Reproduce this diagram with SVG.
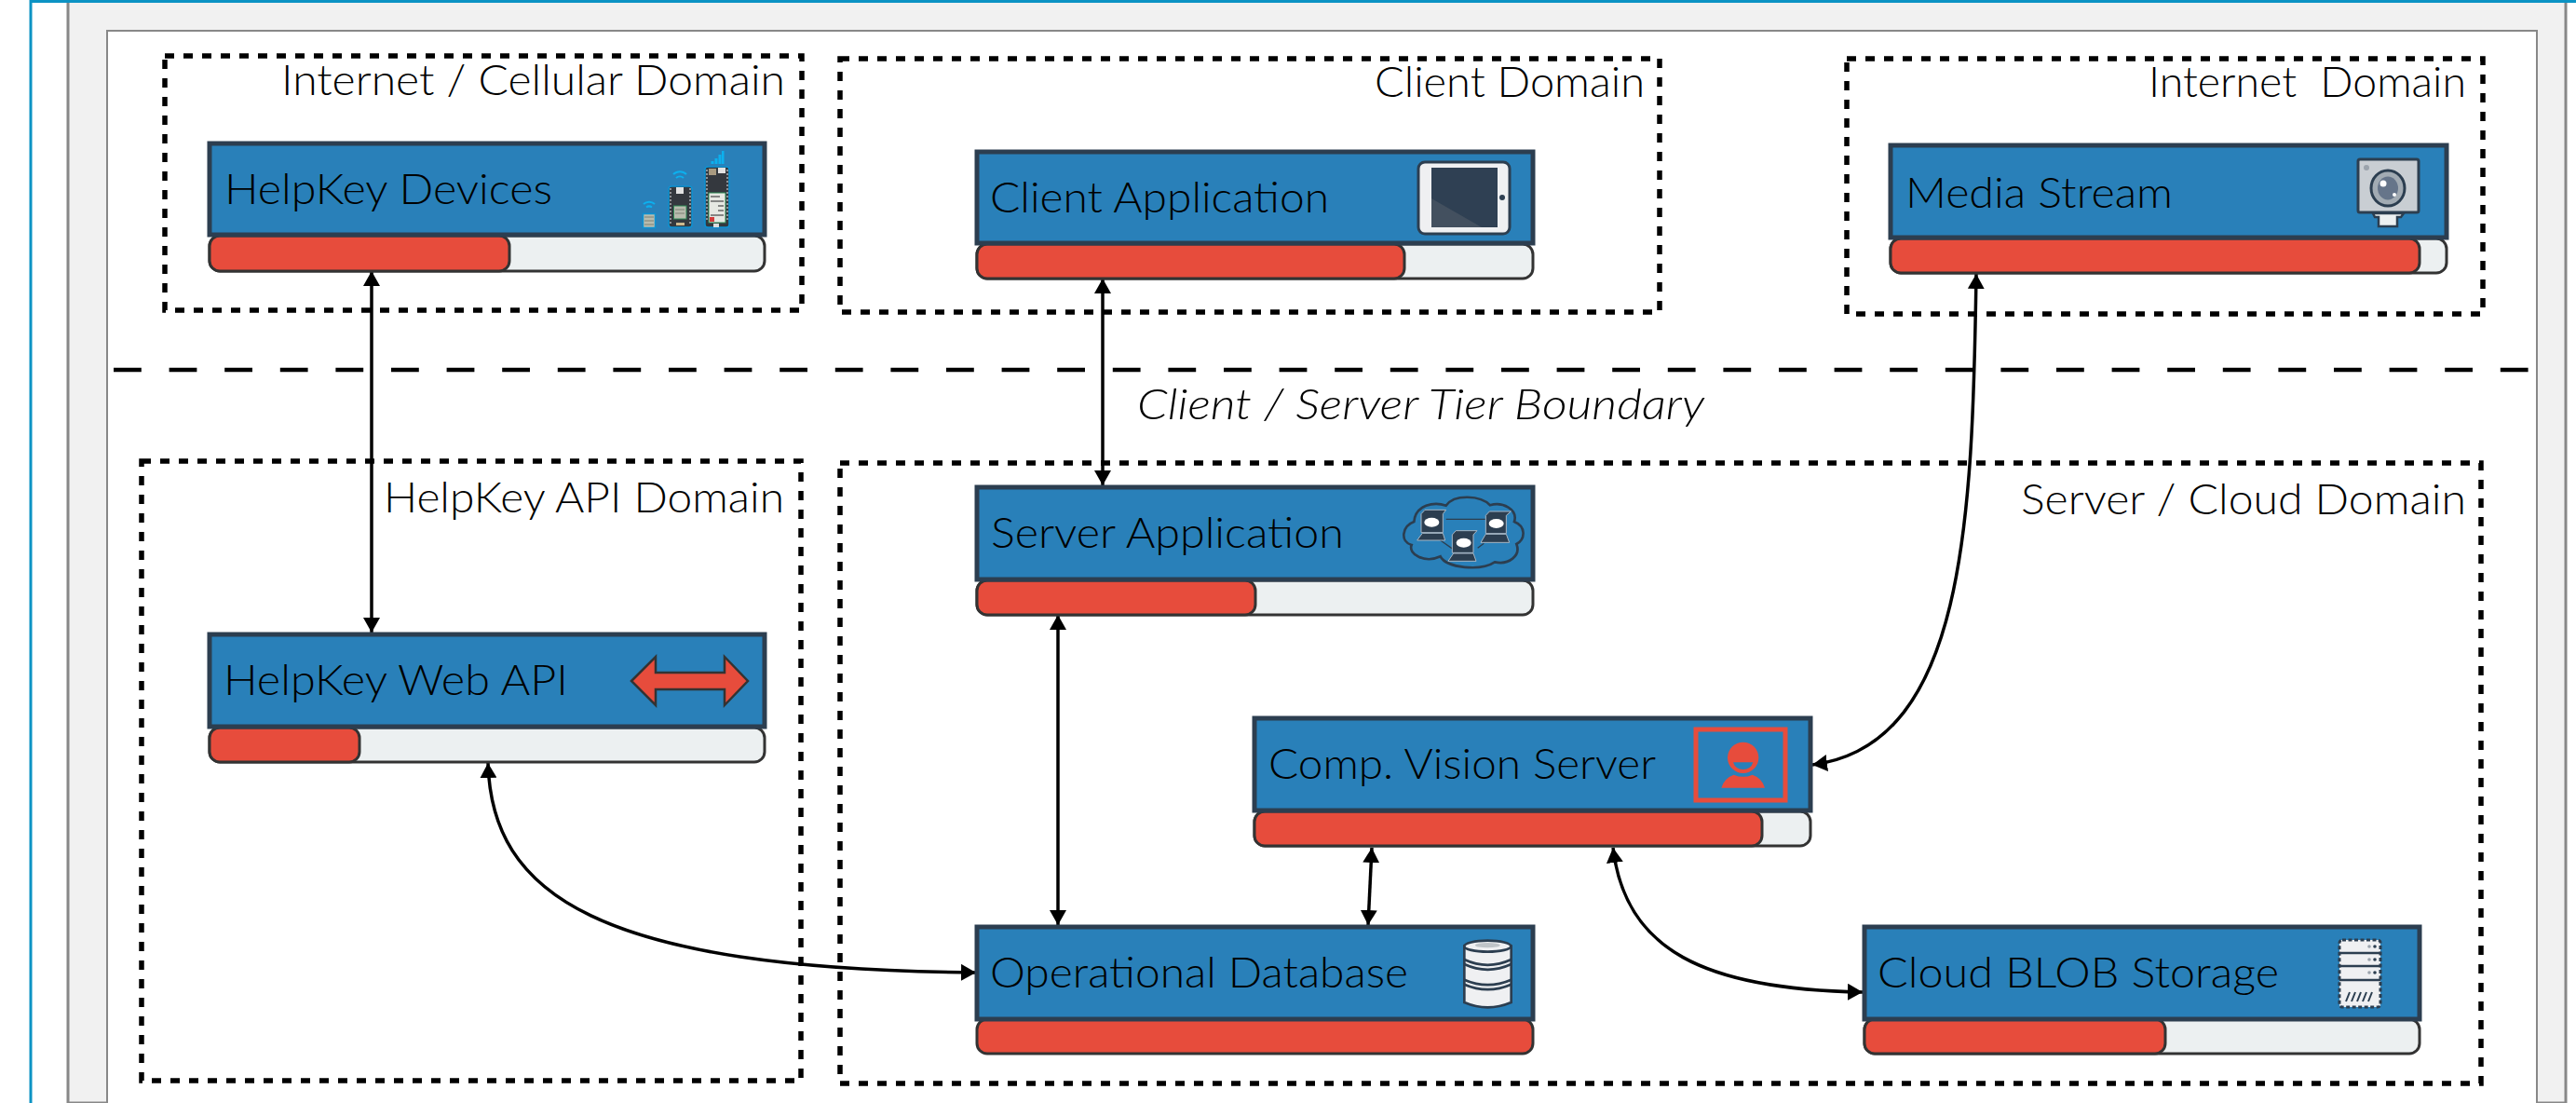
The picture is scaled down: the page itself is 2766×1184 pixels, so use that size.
<svg xmlns="http://www.w3.org/2000/svg" width="2766" height="1184" viewBox="0 0 2766 1184">
<style>
.zone{fill:none;stroke:#000;stroke-width:5.500;stroke-dasharray:10 10}
.hd{fill:#2980b9;stroke:#2c3e50;stroke-width:5}
.bar{fill:#ecf0f1;stroke:#333;stroke-width:3}
.red{fill:#e74c3c;stroke:#333;stroke-width:3}
text{font-family:"Lato","Liberation Sans",sans-serif;font-weight:300;font-size:46px;fill:#000}
.c{fill:none;stroke:#000;stroke-width:3.500;marker-start:url(#s);marker-end:url(#e)}
.pins{fill:none;stroke:#8d9298;stroke-width:2;stroke-dasharray:2 2}
.wifi{fill:none;stroke:#0cb0ee;stroke-width:2}
.mon{fill:#2c3e50;stroke:#a9b7c4;stroke-width:3}
</style>
<defs>
<marker id="e" viewBox="0 0 16 18" refX="16" refY="9" markerWidth="16" markerHeight="18" markerUnits="userSpaceOnUse" orient="auto"><path d="M0,0L16,9L0,18Z" fill="#000"/></marker>
<marker id="s" viewBox="0 0 16 18" refX="0" refY="9" markerWidth="16" markerHeight="18" markerUnits="userSpaceOnUse" orient="auto"><path d="M16,0L0,9L16,18Z" fill="#000"/></marker>
</defs>
<rect width="2766" height="1184" fill="#fff"/>
<g id="frame">
<rect x="73" y="0" width="2682" height="1184" fill="#f1f1f1" stroke="#888" stroke-width="3"/>
<rect x="115" y="33" width="2609" height="1153" fill="#fff" stroke="#888" stroke-width="2"/>
<path d="M33,1184V1.500H2766" fill="none" stroke="#0c93c4" stroke-width="3"/>
</g>
<g id="boundary">
<path d="M122,397H2716" stroke="#000" stroke-width="4.700" stroke-dasharray="29.800 29.800" fill="none"/>
<text x="1221" y="450" font-style="italic" textLength="609" lengthAdjust="spacingAndGlyphs">Client / Server Tier Boundary</text>
</g>
<g id="zone-internet-cellular"><rect class="zone" x="177" y="60" width="684" height="273"/><text x="302" y="102" textLength="541" lengthAdjust="spacingAndGlyphs">Internet / Cellular Domain</text></g>
<g id="zone-client"><rect class="zone" x="902" y="63" width="880" height="272"/><text x="1476" y="104" textLength="290" lengthAdjust="spacingAndGlyphs">Client Domain</text></g>
<g id="zone-internet"><rect class="zone" x="1983" y="63" width="683" height="274"/><text x="2307" y="104" textLength="341" lengthAdjust="spacingAndGlyphs" xml:space="preserve">Internet  Domain</text></g>
<g id="zone-api"><rect class="zone" x="152" y="495" width="708" height="665"/><text x="412" y="550" textLength="430" lengthAdjust="spacingAndGlyphs">HelpKey API Domain</text></g>
<g id="zone-server"><rect class="zone" x="902" y="497" width="1762" height="666"/><text x="2170" y="552" textLength="478" lengthAdjust="spacingAndGlyphs">Server / Cloud Domain</text></g>

<g id="connectors">
<path class="c" d="M399,291V679"/>
<path class="c" d="M1184,299V521"/>
<path class="c" d="M2122,294C2118,560 2110,800 1946,821"/>
<path class="c" d="M1136,660V993"/>
<path class="c" d="M1473,910L1469,993"/>
<path class="c" d="M524,819C528,960 640,1040 1048,1044"/>
<path class="c" d="M1732,910C1745,1020 1830,1062 2000,1065"/>
</g>

<g id="helpkey-devices">
<rect class="bar" x="225" y="253" width="596" height="38" rx="11"/><rect class="red" x="225" y="253" width="322" height="38" rx="11"/>
<rect class="hd" x="225" y="154" width="596" height="98"/>
<text x="241" y="219" textLength="352" lengthAdjust="spacingAndGlyphs">HelpKey Devices</text>
<path class="wifi" d="M691,219a9,9 0 0 1 12,0M694,222.500a5,5 0 0 1 6,0M723,187a10,10 0 0 1 14,0M726,191a6,6 0 0 1 8,0"/>
<rect x="690.500" y="229.500" width="13" height="15" fill="#b8bcae" stroke="#0c93d4" stroke-width="1.500"/>
<path d="M692,233h10M692,237h10M692,241h10" stroke="#7d8175" stroke-width="1"/>
<rect x="718" y="200" width="25" height="44" rx="3" fill="#34383e" stroke="#0c93d4" stroke-width="1.500"/>
<path class="pins" d="M720,202V242M741,202V242"/>
<rect x="723.500" y="221" width="13.500" height="14" fill="#b8bcae" stroke="#2e8b57"/><rect x="726" y="201" width="8" height="7" fill="#e2e2e2"/>
<path d="M725,225h10M725,229h10" stroke="#7d8175" stroke-width="1"/><rect x="726" y="239" width="9" height="3" fill="#cdb98f"/>
<rect x="757" y="179" width="26" height="65" rx="3" fill="#34383e" stroke="#0c93d4" stroke-width="1.500"/>
<path class="pins" d="M759,182V238M781,182V238"/>
<rect x="761" y="207" width="18" height="32" fill="#e6e8e2" stroke="#2e8b57"/><rect x="771" y="180" width="8" height="6" fill="#e2e2e2"/><rect x="761" y="181" width="8" height="7" fill="#a89a80"/>
<path d="M763,211h10M763,216h14M771,221h6M771,226h6M763,231h14" stroke="#666" stroke-width="1.500"/><rect x="762" y="233" width="5" height="5" fill="#d43c3c"/><rect x="766" y="240" width="6" height="4" fill="#ddd"/>
<path d="M763.500,176v-3h3v3zM767.500,176v-6h3v6zM771.500,176v-10h3v10zM775,176v-14h2.500v14z" fill="#0cb0ee"/>
</g>

<g id="client-application">
<rect class="bar" x="1049" y="262" width="597" height="37" rx="11"/><rect class="red" x="1049" y="262" width="459" height="37" rx="11"/>
<rect class="hd" x="1049" y="163" width="597" height="98"/>
<text x="1063" y="228" textLength="364" lengthAdjust="spacingAndGlyphs">Client Application</text>
<rect x="1523" y="174" width="98" height="77" rx="7" fill="#eff0f2" stroke="#2c3e50" stroke-width="3"/>
<rect x="1537" y="180" width="71" height="64" fill="#2f4053"/><path d="M1537,213L1591,244H1537Z" fill="#43505f"/><circle cx="1613" cy="212" r="3" fill="#2f4053"/>
</g>

<g id="media-stream">
<rect class="bar" x="2030" y="256" width="597" height="37" rx="11"/><rect class="red" x="2030" y="256" width="568" height="37" rx="11"/>
<rect class="hd" x="2030" y="156" width="597" height="99"/>
<text x="2046" y="223" textLength="287" lengthAdjust="spacingAndGlyphs">Media Stream</text>
<rect x="2532" y="171" width="65" height="57" rx="2" fill="#c9ced3" stroke="#2c3e50" stroke-width="3"/>
<path d="M2548,229H2581L2578,233H2574V243H2554V233H2550Z" fill="#ecf0f1" stroke="#2c3e50" stroke-width="2.500"/>
<ellipse cx="2564" cy="202" rx="18" ry="19" fill="#a2abb3" stroke="#2c3e50" stroke-width="3"/>
<ellipse cx="2564" cy="202" rx="11" ry="12.500" fill="#66758a"/><circle cx="2559" cy="197" r="3.500" fill="#fff"/><circle cx="2571" cy="209" r="2" fill="#fff"/><circle cx="2541" cy="180" r="3" fill="#9ba3ac"/>
</g>

<g id="server-application">
<rect class="bar" x="1049" y="623" width="597" height="37" rx="11"/><rect class="red" x="1049" y="623" width="299" height="37" rx="11"/>
<rect class="hd" x="1049" y="523" width="597" height="99"/>
<text x="1064" y="588" textLength="379" lengthAdjust="spacingAndGlyphs">Server Application</text>
<g transform="translate(1450,510) scale(.33333)">
<path d="M205,150C165,165 160,215 197,225C185,255 240,285 290,262C310,300 420,310 465,280C510,290 550,260 535,222C565,205 565,165 528,150C540,110 490,85 450,97C420,65 335,60 308,98C270,85 210,95 205,150Z" fill="#2980b9" stroke="#2c3e50" stroke-width="8"/>
<path d="M308,142H435M290,210L330,238M410,235L430,220" stroke="#2c3e50" stroke-width="4" fill="none"/>
<path class="mon" d="M228,125L240,112H308L298,125V185H228ZM232,187H298L305,210H215Z"/>
<path class="mon" d="M328,192L340,179H408L396,192V250H328ZM332,252H396L405,277H315Z"/>
<path class="mon" d="M436,130L448,117H517L502,130V188H436ZM436,190H502L512,217H420Z"/>
<ellipse cx="262" cy="152" rx="24" ry="15" fill="#fff"/><ellipse cx="365" cy="218" rx="24" ry="15" fill="#fff"/><ellipse cx="470" cy="156" rx="24" ry="15" fill="#fff"/>
</g>
</g>

<g id="helpkey-web-api">
<rect class="bar" x="225" y="781" width="596" height="37" rx="11"/><rect class="red" x="225" y="781" width="161" height="37" rx="11"/>
<rect class="hd" x="225" y="681" width="596" height="99"/>
<text x="240" y="746" textLength="370" lengthAdjust="spacingAndGlyphs">HelpKey Web API</text>
<path d="M678,731L704,705V722H778V705L803,731L778,757V740H704V757Z" fill="#e74c3c" stroke="#333" stroke-width="2.500"/>
</g>

<g id="comp-vision-server">
<rect class="bar" x="1347" y="871" width="597" height="37" rx="11"/><rect class="red" x="1347" y="871" width="545" height="37" rx="11"/>
<rect class="hd" x="1347" y="771" width="597" height="99"/>
<text x="1362" y="836" textLength="416" lengthAdjust="spacingAndGlyphs">Comp. Vision Server</text>
<rect x="1821" y="783" width="96" height="76" fill="none" stroke="#e74c3c" stroke-width="5"/>
<g transform="translate(1780,750) scale(.33333)">
<circle cx="275" cy="190" r="50" fill="#e74c3c"/>
<path d="M243,205H307Q300,228 275,228Q250,228 243,205Z" fill="#2980b9"/>
<path d="M205,287Q215,255 245,245Q275,258 305,245Q335,255 345,287Z" fill="#e74c3c"/>
</g>
</g>

<g id="operational-database">
<rect class="red" x="1049" y="1094" width="597" height="37" rx="11"/>
<rect class="hd" x="1049" y="995" width="597" height="99"/>
<text x="1063" y="1060" textLength="449" lengthAdjust="spacingAndGlyphs">Operational Database</text>
<g transform="translate(1520,980) scale(.33333)" stroke="#2c3e50" stroke-width="8">
<path d="M157,107V288Q232,320 308,288V107Z" fill="#eff0f2"/>
<ellipse cx="232" cy="107" rx="75" ry="18" fill="#eff0f2"/>
<ellipse cx="232" cy="104" rx="40" ry="8" fill="#bfc4c8" stroke="none"/>
<path d="M157,150Q232,185 308,150M157,165Q232,200 308,165M157,215Q232,248 308,215M157,230Q232,263 308,230" fill="none"/>
</g>
</g>

<g id="cloud-blob-storage">
<rect class="bar" x="2002" y="1094" width="596" height="37" rx="11"/><rect class="red" x="2002" y="1094" width="323" height="37" rx="11"/>
<rect class="hd" x="2002" y="995" width="596" height="99"/>
<text x="2016" y="1060" textLength="431" lengthAdjust="spacingAndGlyphs">Cloud BLOB Storage</text>
<rect x="2512" y="1009" width="44" height="72" rx="3" fill="#eff0f2" stroke="#2c3e50" stroke-width="3" stroke-dasharray="4 2.500"/>
<path d="M2512,1023H2556M2512,1037H2556M2512,1052H2556" stroke="#2c3e50" stroke-width="2.500" fill="none"/>
<g fill="#2c3e50"><circle cx="2550" cy="1016" r="1.800"/><circle cx="2550" cy="1030" r="1.800"/><circle cx="2550" cy="1044" r="1.800"/></g>
<g fill="#9ba3ac"><circle cx="2544" cy="1016" r="1.800"/><circle cx="2544" cy="1030" r="1.800"/><circle cx="2544" cy="1044" r="1.800"/></g>
<path d="M2519,1075l4,-10M2525,1075l4,-10M2531,1075l4,-10M2537,1075l4,-10M2543,1075l4,-10" stroke="#2c3e50" stroke-width="2" fill="none"/>
</g>
</svg>
